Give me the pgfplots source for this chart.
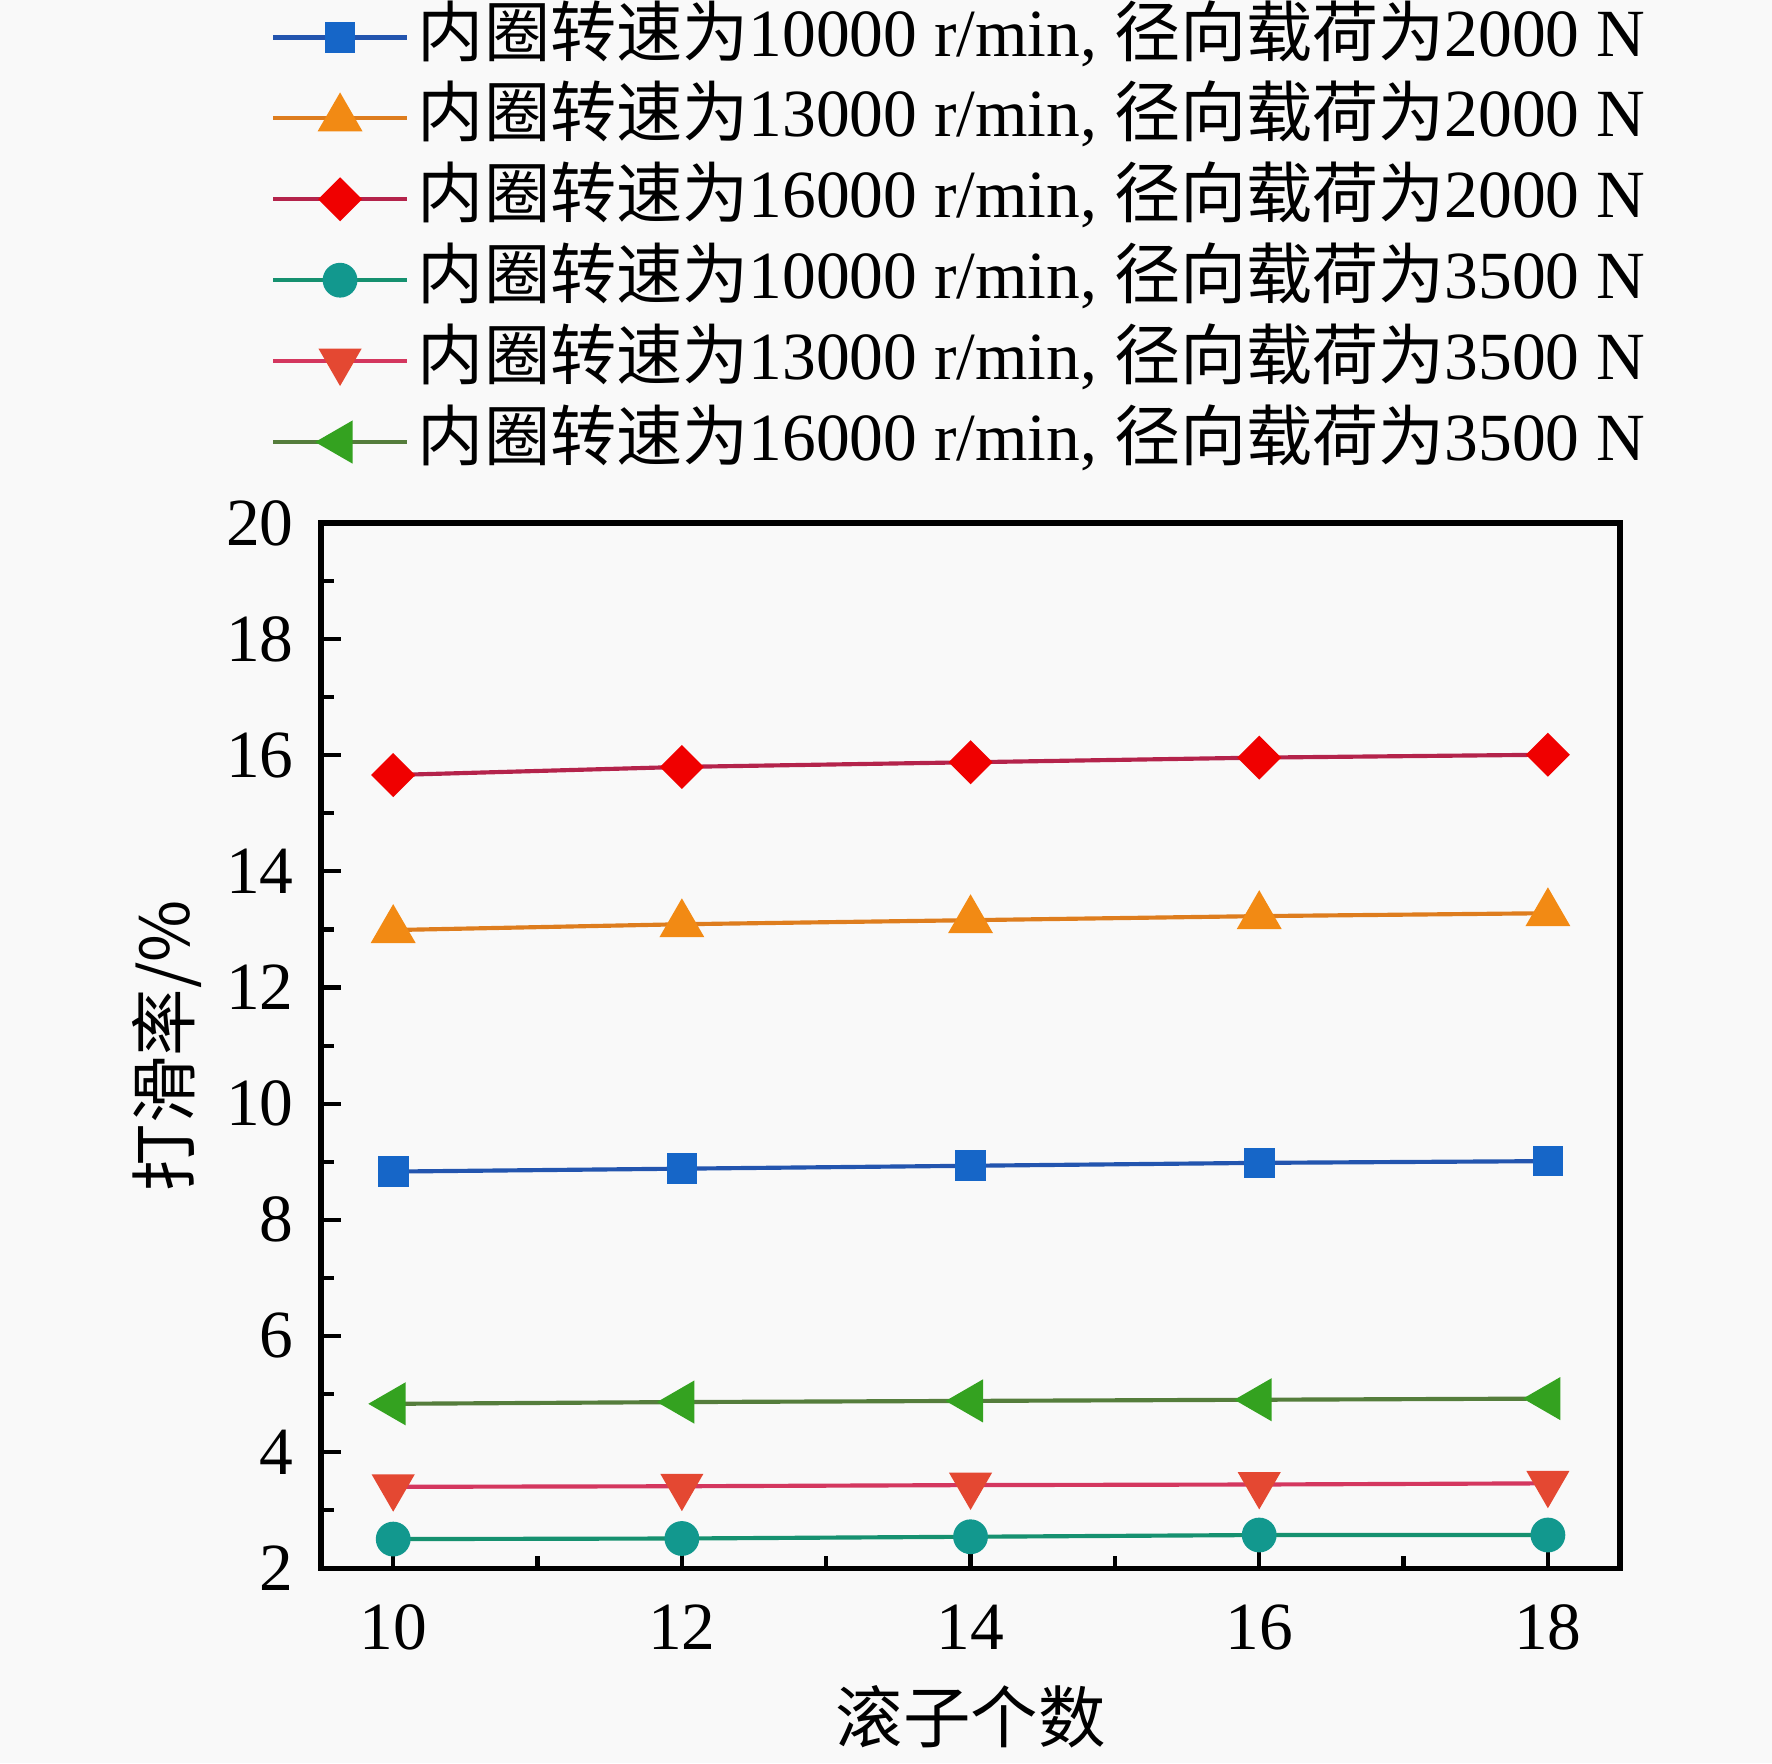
\documentclass[border=0pt]{standalone}
\usepackage{fontspec}
\setmainfont{Liberation Serif}
\newfontfamily\cjk{Noto Sans CJK SC}[Scale=0.98]
\newfontfamily\cjkl{Noto Sans CJK SC}[Scale=1.0]
\usepackage{pgfplots}
\pgfplotsset{compat=1.18}
\pgfdeclarelayer{background}
\pgfsetlayers{background,main}
\definecolor{bg}{RGB}{249,249,249}
\definecolor{bfill}{RGB}{22,102,200}
\definecolor{bline}{RGB}{35,85,175}
\definecolor{ofill}{RGB}{242,138,20}
\definecolor{oline}{RGB}{222,125,30}
\definecolor{rfill}{RGB}{240,0,0}
\definecolor{rline}{RGB}{180,35,75}
\definecolor{tfill}{RGB}{18,152,142}
\definecolor{tline}{RGB}{22,145,112}
\definecolor{dfill}{RGB}{228,72,50}
\definecolor{dline}{RGB}{212,55,95}
\definecolor{gfill}{RGB}{52,162,32}
\definecolor{gline}{RGB}{85,125,60}
\begin{document}
\fontsize{13}{15.6}\selectfont
\begin{tikzpicture}
\begin{axis}[
  name=ax,
  scale only axis,
  width=8.797cm, height=7.077cm,
  xmin=9.5, xmax=18.5, ymin=2, ymax=20,
  xtick={10,12,14,16,18},
  minor xtick={11,13,15,17},
  ytick={2,4,...,20},
  minor ytick={3,5,...,19},
  tick align=inside,
  xtick pos=bottom, ytick pos=left,
  major tick length=0.135cm,
  minor tick length=0.085cm,
  axis line style={line width=1pt},
  every tick/.style={black, line width=0.8pt},
  /pgf/number format/assume math mode=true,
  tick label style={font=\fontsize{13}{15.6}\selectfont},
  xticklabel style={yshift=-0.087cm},
  yticklabel style={xshift=-0.026cm},
  xlabel={\cjkl 滚子个数},
  ylabel={\cjkl 打滑率/\%},
  every axis x label/.style={at={(axis description cs:0.5,0)}, anchor=north, yshift=-0.79cm, inner sep=0pt},
  every axis y label/.style={at={(axis description cs:-0.091,0.5)}, rotate=90, anchor=south, inner sep=0pt},
  legend style={at={(axis description cs:-0.0385,1.0388)}, anchor=south west,
    draw=none, fill=none, inner sep=0pt, outer sep=0pt, row sep=0pt, column sep=0.06cm,
    nodes={inner sep=0pt, text height=0.4cm, text depth=0.148cm},
    font=\fontsize{13}{15.6}\selectfont},
  legend cell align=left,
  legend image code/.code={\draw[mark repeat=2,mark phase=2] plot coordinates {(0cm,0cm) (0.4535cm,0cm) (0.907cm,0cm)};},
  every axis plot/.append style={line width=0.8pt},
]
\addplot[color=bline, mark=square*, mark size=2.56pt, mark options={fill=bfill, draw=bfill, solid}]
  coordinates {(10,8.83) (12,8.88) (14,8.93) (16,8.98) (18,9.01)};
\addlegendentry{{\cjk 内圈转速为}10000 r/min, {\cjk 径向载荷为}2000 N}
\addplot[color=oline, mark=triangle*, mark size=4.2pt, mark options={fill=ofill, draw=ofill, solid}]
  coordinates {(10,12.99) (12,13.09) (14,13.16) (16,13.23) (18,13.28)};
\addlegendentry{{\cjk 内圈转速为}13000 r/min, {\cjk 径向载荷为}2000 N}
\addplot[color=rline, mark=square*, mark size=2.6pt, mark options={fill=rfill, draw=rfill, rotate=45, solid}]
  coordinates {(10,15.66) (12,15.80) (14,15.88) (16,15.96) (18,16.01)};
\addlegendentry{{\cjk 内圈转速为}16000 r/min, {\cjk 径向载荷为}2000 N}
\addplot[color=tline, mark=*, mark size=2.95pt, mark options={fill=tfill, draw=tfill, solid}]
  coordinates {(10,2.50) (12,2.51) (14,2.54) (16,2.57) (18,2.57)};
\addlegendentry{{\cjk 内圈转速为}10000 r/min, {\cjk 径向载荷为}3500 N}
\addplot[color=dline, mark=triangle*, mark size=4pt, mark options={fill=dfill, draw=dfill, rotate=180, solid}]
  coordinates {(10,3.40) (12,3.41) (14,3.43) (16,3.44) (18,3.46)};
\addlegendentry{{\cjk 内圈转速为}13000 r/min, {\cjk 径向载荷为}3500 N}
\addplot[color=gline, mark=triangle*, mark size=4pt, mark options={fill=gfill, draw=gfill, rotate=90, solid}]
  coordinates {(10,4.83) (12,4.86) (14,4.88) (16,4.90) (18,4.92)};
\addlegendentry{{\cjk 内圈转速为}16000 r/min, {\cjk 径向载荷为}3500 N}
\end{axis}
\pgfresetboundingbox
\begin{pgfonlayer}{background}
\fill[bg] ([shift={(-2.174cm,-1.320cm)}]ax.south west) rectangle ([shift={(1.029cm,3.542cm)}]ax.north east);
\end{pgfonlayer}
\path[use as bounding box] ([shift={(-2.174cm,-1.320cm)}]ax.south west) rectangle ([shift={(1.029cm,3.542cm)}]ax.north east);
\end{tikzpicture}
\end{document}
